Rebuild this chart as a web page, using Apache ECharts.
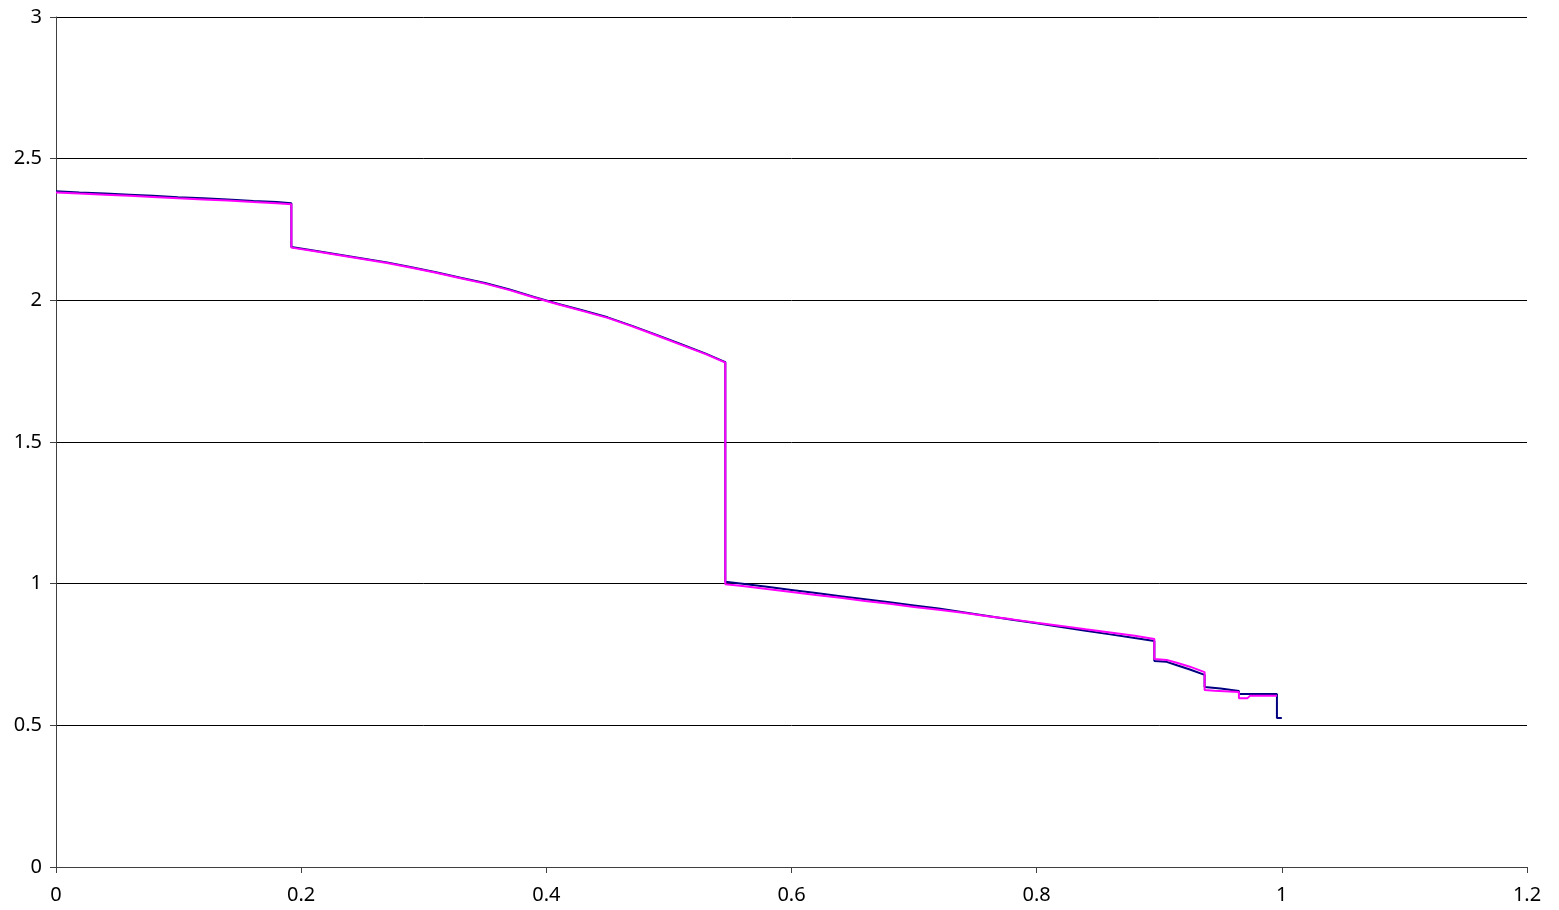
<!DOCTYPE html>
<html>
<head>
<meta charset="utf-8">
<script src="https://cdn.jsdelivr.net/npm/echarts@6/dist/echarts.min.js"></script>
<style>
html,body{margin:0;padding:0;background:#fff;}
#chart{width:1559px;height:910px;}
</style>
</head>
<body>
<div id="chart"></div>
<script>
// Series 1 (navy): polyline points (repeated x = vertical drop)
const navyX = [0, 0.019, 0.040, 0.060, 0.079, 0.0995, 0.120, 0.140, 0.161, 0.180, 0.192,
  0.192, 0.21, 0.23, 0.25, 0.27, 0.29, 0.31, 0.33, 0.35, 0.37, 0.39, 0.41, 0.43, 0.45, 0.47, 0.49, 0.51, 0.53, 0.546,
  0.546, 0.56, 0.58, 0.60, 0.62, 0.64, 0.66, 0.68, 0.70, 0.72, 0.74, 0.76, 0.78, 0.80, 0.82, 0.84, 0.86, 0.88, 0.896,
  0.896, 0.906, 0.915, 0.925, 0.937,
  0.937, 0.950, 0.965,
  0.965, 0.996,
  0.996, 1.0];
const navyY = [2.385, 2.381, 2.377, 2.373, 2.369, 2.364, 2.360, 2.356, 2.351, 2.347, 2.343,
  2.188, 2.176, 2.162, 2.148, 2.134, 2.117, 2.099, 2.080, 2.061, 2.038, 2.012, 1.987, 1.964, 1.940, 1.910, 1.878, 1.845, 1.812, 1.782,
  1.007, 1.000, 0.989, 0.978, 0.967, 0.956, 0.945, 0.934, 0.923, 0.912, 0.899, 0.886, 0.873, 0.860, 0.847, 0.834, 0.821, 0.808, 0.798,
  0.727, 0.724, 0.711, 0.697, 0.678,
  0.635, 0.630, 0.621,
  0.611, 0.611,
  0.526, 0.526];

// Series 2 (magenta)
const magX = [0, 0.019, 0.040, 0.060, 0.079, 0.0995, 0.120, 0.140, 0.161, 0.180, 0.192,
  0.192, 0.21, 0.23, 0.25, 0.27, 0.29, 0.31, 0.33, 0.35, 0.37, 0.39, 0.41, 0.43, 0.45, 0.47, 0.49, 0.51, 0.53, 0.546,
  0.546, 0.56, 0.58, 0.60, 0.62, 0.64, 0.66, 0.68, 0.70, 0.72, 0.74, 0.76, 0.78, 0.80, 0.82, 0.84, 0.86, 0.88, 0.896,
  0.896, 0.906, 0.915, 0.925, 0.937,
  0.937, 0.945, 0.965,
  0.965, 0.972, 0.974, 0.996];
const magY = [2.381, 2.377, 2.373, 2.369, 2.365, 2.360, 2.356, 2.352, 2.347, 2.343, 2.339,
  2.186, 2.174, 2.160, 2.146, 2.132, 2.115, 2.097, 2.078, 2.059, 2.036, 2.010, 1.985, 1.962, 1.938, 1.908, 1.876, 1.843, 1.810, 1.780,
  0.998, 0.992, 0.981, 0.971, 0.960, 0.950, 0.939, 0.929, 0.918, 0.908, 0.897, 0.885, 0.874, 0.862, 0.851, 0.839, 0.828, 0.816, 0.805,
  0.734, 0.731, 0.720, 0.707, 0.688,
  0.625, 0.622, 0.618,
  0.596, 0.596, 0.604, 0.604];

const xTicks = {min: 0, max: 1.2, interval: 0.2};
const yTicks = {min: 0, max: 3, interval: 0.5};

const zip = (xs, ys) => xs.map((x, i) => [x, ys[i]]);

const chart = echarts.init(document.getElementById('chart'), null, {renderer: 'canvas'});
const font = 'Noto Sans';
chart.setOption({
  animation: false,
  backgroundColor: '#ffffff',
  grid: {left: 56, right: 32, top: 17, bottom: 43, containLabel: false},
  xAxis: {
    type: 'value', min: xTicks.min, max: xTicks.max, interval: xTicks.interval,
    axisLine: {show: true, onZero: false, lineStyle: {color: '#404040', width: 1}},
    axisTick: {show: true, length: 6, lineStyle: {color: '#404040'}},
    axisLabel: {color: '#000', fontFamily: font, fontSize: 20, margin: 18},
    splitLine: {show: false}
  },
  yAxis: {
    type: 'value', min: yTicks.min, max: yTicks.max, interval: yTicks.interval,
    axisLine: {show: true, lineStyle: {color: '#404040', width: 1}},
    axisTick: {show: true, length: 6, lineStyle: {color: '#404040'}},
    axisLabel: {color: '#000', fontFamily: font, fontSize: 20, margin: 14},
    splitLine: {show: true, lineStyle: {color: '#000', width: 1}}
  },
  series: [
    {type: 'line', data: zip(navyX, navyY), showSymbol: false,
     lineStyle: {color: '#000080', width: 2}, itemStyle: {color: '#000080'}},
    {type: 'line', data: zip(magX, magY), showSymbol: false,
     lineStyle: {color: '#ff00ff', width: 2}, itemStyle: {color: '#ff00ff'}}
  ]
});
</script>
</body>
</html>
